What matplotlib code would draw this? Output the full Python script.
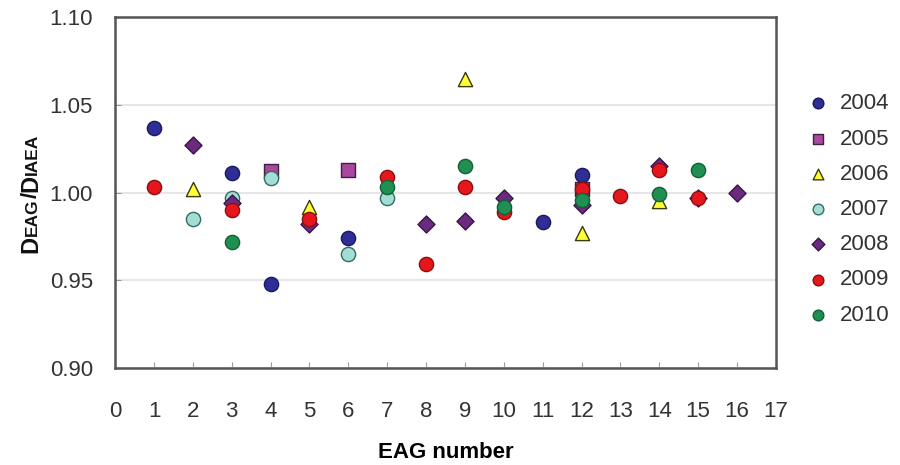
import matplotlib.pyplot as plt

plt.rcParams['font.family'] = ['Liberation Sans', 'DejaVu Sans']

years = ['2004', '2005', '2006', '2007', '2008', '2009', '2010']

# EAG number and DEAG/DIAEA ratio for each year
x_2004 = [1, 3, 4, 6, 11, 12]
y_2004 = [1.037, 1.011, 0.948, 0.974, 0.983, 1.010]
x_2005 = [4, 6, 12]
y_2005 = [1.012, 1.013, 1.002]
x_2006 = [2, 5, 9, 12, 14]
y_2006 = [1.002, 0.992, 1.065, 0.977, 0.995]
x_2007 = [2, 3, 4, 6, 7]
y_2007 = [0.985, 0.997, 1.008, 0.965, 0.997]
x_2008 = [2, 3, 5, 8, 9, 10, 12, 14, 15, 16]
y_2008 = [1.027, 0.994, 0.982, 0.982, 0.984, 0.997, 0.993, 1.015, 0.997, 1.000]
x_2009 = [1, 3, 5, 7, 8, 9, 10, 12, 13, 14, 15]
y_2009 = [1.003, 0.990, 0.985, 1.009, 0.959, 1.003, 0.989, 1.002, 0.998, 1.013, 0.997]
x_2010 = [3, 7, 9, 10, 12, 14, 15]
y_2010 = [0.972, 1.003, 1.015, 0.992, 0.996, 0.999, 1.013]

xs = [x_2004, x_2005, x_2006, x_2007, x_2008, x_2009, x_2010]
ys = [y_2004, y_2005, y_2006, y_2007, y_2008, y_2009, y_2010]
markers = ['o', 's', '^', 'o', 'D', 'o', 'o']
faces = ['#2E2E96', '#A8489E', '#FFFF33', '#A5DCD3', '#6A2A80', '#E5161C', '#1F8F52']
edges = ['#1A1A60', '#40203F', '#3A3A10', '#2E6E66', '#3A1548', '#8A1010', '#146035']
sizes = [105, 95, 105, 105, 75, 105, 105]

fig = plt.figure(figsize=(9, 4.65), dpi=100)
ax = fig.add_axes([0.128, 0.209, 0.734, 0.754])

for i in range(len(years)):
    ax.scatter(xs[i], ys[i], marker=markers[i], s=sizes[i], c=faces[i],
               edgecolors=edges[i], linewidths=1.0, label=years[i], zorder=3)

ax.set_xlim(0, 17)
ax.set_ylim(0.90, 1.10)
ax.set_xticks(range(0, 18))
ax.set_yticks([0.90, 0.95, 1.00, 1.05, 1.10])
ax.set_yticklabels(['0.90', '0.95', '1.00', '1.05', '1.10'])
ax.grid(axis='y', color='#E6E6E6', linewidth=1.5, zorder=0)
ax.tick_params(axis='x', direction='in', length=4, pad=24, labelsize=16,
               color='#999999', labelcolor='#333333')
ax.tick_params(axis='y', direction='in', length=4, pad=16, labelsize=16,
               color='#999999', labelcolor='#333333')
for sp in ax.spines.values():
    sp.set_color('#555555')
    sp.set_linewidth(1.8)

ax.set_xlabel('EAG number', fontsize=16, fontweight='bold', labelpad=14)

# y label in small caps: D EAG / D IAEA
pieces = [('D', 17), ('EAG', 12.5), ('/', 16), ('D', 17), ('IAEA', 12.5)]
r = fig.canvas.get_renderer()
widths = []
for s, fs in pieces:
    t = fig.text(0, 0, s, fontsize=fs, fontweight='bold')
    widths.append(t.get_window_extent(r).width)
    t.remove()
W, H = fig.get_size_inches() * fig.dpi
y0 = (465 - 193) - sum(widths) / 2
x0 = 37
for (s, fs), w in zip(pieces, widths):
    fig.text(x0 / W, y0 / H, s, fontsize=fs, fontweight='bold', rotation=90,
             rotation_mode='anchor', ha='left', va='baseline', color='#111111')
    y0 += w

ax.legend(loc='upper left', bbox_to_anchor=(1.0, 0.84), frameon=False,
          fontsize=16, handletextpad=0.0, labelspacing=0.64, markerscale=0.75,
          labelcolor='#333333')

fig.savefig('out.png', dpi=100)
